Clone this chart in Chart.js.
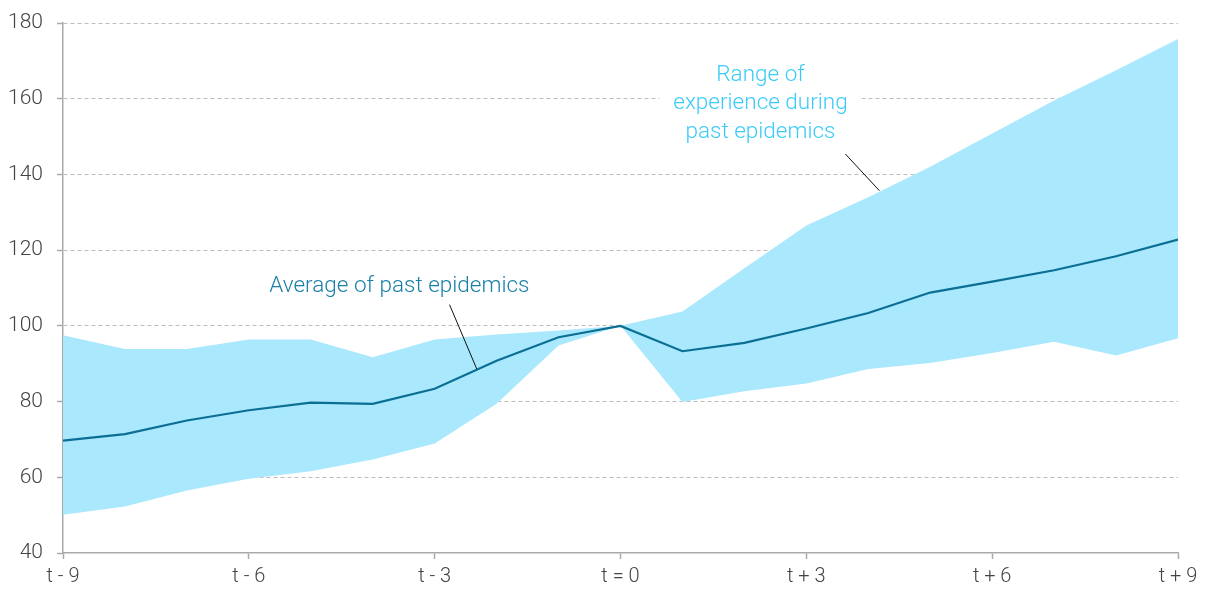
<!DOCTYPE html>
<html lang="en">
<head>
<meta charset="UTF-8">
<title>Range of experience during past epidemics</title>
<script src="https://cdn.jsdelivr.net/npm/chart.js"></script>
<style>
  body { margin: 0; background: #fff; }
</style>
</head>
<body>
<canvas id="chart" width="1205" height="590"></canvas>
<script>
// periods relative to t = 0
const periods = [-9, -8, -7, -6, -5, -4, -3, -2, -1, 0, 1, 2, 3, 4, 5, 6, 7, 8, 9];
const average = [69.7, 71.4, 75.0, 77.7, 79.7, 79.4, 83.4, 90.8, 97.0, 100, 93.3, 95.5, 99.3, 103.4, 108.8, 111.7, 114.7, 118.4, 122.8];
const upper   = [97.5, 93.9, 93.9, 96.4, 96.4, 91.7, 96.4, 97.7, 98.8, 100, 103.8, 115.2, 126.5, 134.0, 142.0, 150.8, 159.5, 167.5, 175.8];
const lower   = [50.1, 52.3, 56.5, 59.6, 61.6, 64.7, 68.9, 79.4, 94.8, 100, 79.9, 82.7, 84.8, 88.6, 90.2, 92.8, 95.8, 92.2, 96.7];
const yTicks = [40, 60, 80, 100, 120, 140, 160, 180];

const pts = arr => arr.map((v, i) => ({ x: periods[i], y: v }));

// labels placed in data units
const notes = [
  { lines: ['Average of past epidemics'], x: -3.57, y: 110.3, color: '#1b80a8', box: false,
    leader: [[-2.76, 105.6], [-2.32, 88.6]] },
  { lines: ['Range of', 'experience during', 'past epidemics'], x: 2.26, y: 158.7, color: '#3ccbf8', box: true,
    leader: [[3.63, 145.4], [4.18, 135.7]] }
];

const notesPlugin = {
  id: 'notes',
  afterDatasetsDraw(chart) {
    const { ctx, scales: { x, y } } = chart;
    ctx.save();
    ctx.font = '300 22.5px Roboto';
    ctx.textAlign = 'center';
    ctx.textBaseline = 'middle';
    const lh = 28.5;
    notes.forEach(n => {
      const cx = x.getPixelForValue(n.x);
      const cy = y.getPixelForValue(n.y);
      const y0 = cy - (n.lines.length - 1) / 2 * lh;
      if (n.box) {
        ctx.fillStyle = '#fff';
        n.lines.forEach((t, i) => {
          const w = ctx.measureText(t).width;
          ctx.fillRect(cx - w / 2 - 14, y0 + i * lh - 13, w + 28, 26);
        });
      }
      ctx.fillStyle = n.color;
      n.lines.forEach((t, i) => ctx.fillText(t, cx, y0 + i * lh));
      ctx.beginPath();
      ctx.strokeStyle = '#111';
      ctx.lineWidth = 1;
      ctx.moveTo(x.getPixelForValue(n.leader[0][0]), y.getPixelForValue(n.leader[0][1]));
      ctx.lineTo(x.getPixelForValue(n.leader[1][0]), y.getPixelForValue(n.leader[1][1]));
      ctx.stroke();
    });
    ctx.restore();
  }
};

new Chart(document.getElementById('chart'), {
  type: 'line',
  data: {
    datasets: [
      { label: 'Average of past epidemics', data: pts(average), borderColor: '#0b6e94', borderWidth: 2.2,
        pointRadius: 0, tension: 0, fill: false },
      { label: 'Upper', data: pts(upper), borderWidth: 0, borderColor: 'rgba(0,0,0,0)',
        backgroundColor: '#aae8fd', pointRadius: 0, tension: 0, fill: '+1' },
      { label: 'Lower', data: pts(lower), borderWidth: 0, borderColor: 'rgba(0,0,0,0)',
        pointRadius: 0, tension: 0, fill: false }
    ]
  },
  options: {
    responsive: false,
    animation: false,
    layout: { autoPadding: false, padding: { top: 23, right: 27, left: 0, bottom: 0 } },
    plugins: { legend: { display: false }, tooltip: { enabled: false } },
    scales: {
      x: {
        type: 'linear', min: -9, max: 9,
        afterFit: s => { s.height = 37; },
        afterBuildTicks: s => { s.ticks = periods.filter(p => p % 3 === 0).map(v => ({ value: v })); },
        grid: { drawOnChartArea: false, drawTicks: true, tickLength: 6, tickColor: '#aaa', tickWidth: 1.5 },
        border: { color: '#aaa', width: 1.5 },
        ticks: {
          padding: 6, color: '#444', font: { family: 'Roboto', size: 20, weight: '300' },
          maxRotation: 0, autoSkip: false,
          callback: v => v < 0 ? 't - ' + (-v) : v === 0 ? 't = 0' : 't + ' + v
        }
      },
      y: {
        min: 40, max: 180,
        afterFit: s => { s.width = 63; s.paddingTop = 0; s.paddingBottom = 0; },
        afterBuildTicks: s => { s.ticks = yTicks.map(v => ({ value: v })); },
        grid: { color: c => c.tick.value === 40 ? 'rgba(0,0,0,0)' : '#bdbdbd', lineWidth: 1,
                tickBorderDash: [], tickColor: '#aaa', tickLength: 6, tickWidth: 1.5 },
        border: { color: '#aaa', width: 1.5, dash: [4, 3] },
        ticks: { padding: 14, color: '#444', font: { family: 'Roboto', size: 21, weight: '300' } }
      }
    }
  },
  plugins: [notesPlugin]
});
</script>
</body>
</html>
